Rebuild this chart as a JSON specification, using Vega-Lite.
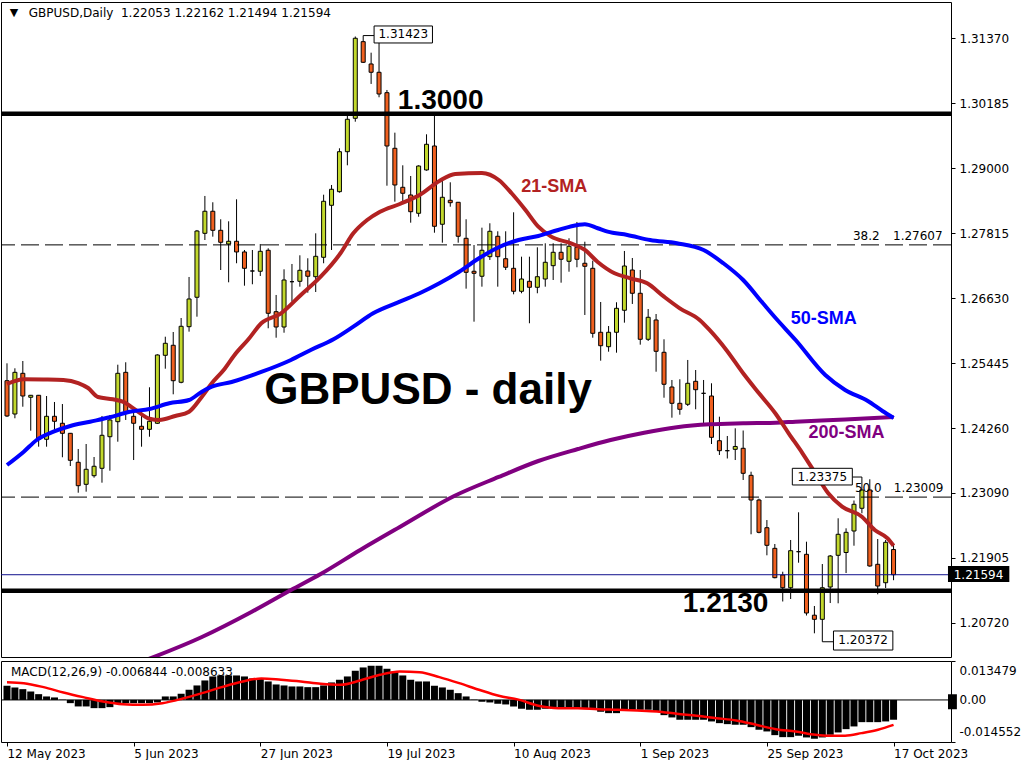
{
"$schema": "https://vega.github.io/schema/vega-lite/v6.json",
"background": "white",
"padding": {"left": 0, "top": 1, "right": 0, "bottom": 0},
"spacing": 2,
"config": {
  "view": {"stroke": "black", "strokeWidth": 1},
  "font": "DejaVu Sans",
  "axis": {"labelFont": "DejaVu Sans", "labelFontSize": 12, "labelColor": "black", "tickColor": "black", "grid": false, "domain": false}
},
"datasets": {
"ohlc": [
{"i":0,"o":1.25131,"h":1.25448,"l":1.24469,"c":1.24488},
{"i":1,"o":1.24524,"h":1.25357,"l":1.24446,"c":1.25284},
{"i":2,"o":1.25266,"h":1.25490,"l":1.24657,"c":1.24852},
{"i":3,"o":1.24829,"h":1.24871,"l":1.24220,"c":1.24865},
{"i":4,"o":1.24865,"h":1.24871,"l":1.23928,"c":1.24063},
{"i":5,"o":1.24063,"h":1.24852,"l":1.23928,"c":1.24482},
{"i":6,"o":1.24482,"h":1.24743,"l":1.24232,"c":1.24391},
{"i":7,"o":1.24355,"h":1.24706,"l":1.23735,"c":1.24172},
{"i":8,"o":1.24172,"h":1.24178,"l":1.23576,"c":1.23680},
{"i":9,"o":1.23644,"h":1.23886,"l":1.23089,"c":1.23217},
{"i":10,"o":1.23242,"h":1.23977,"l":1.23108,"c":1.23516},
{"i":11,"o":1.23399,"h":1.23740,"l":1.23363,"c":1.23571},
{"i":12,"o":1.23534,"h":1.24488,"l":1.23272,"c":1.24136},
{"i":13,"o":1.24110,"h":1.24506,"l":1.23490,"c":1.24415},
{"i":14,"o":1.24384,"h":1.25423,"l":1.24019,"c":1.25266},
{"i":15,"o":1.25284,"h":1.25467,"l":1.24415,"c":1.24566},
{"i":16,"o":1.24482,"h":1.24597,"l":1.23685,"c":1.24355},
{"i":17,"o":1.24300,"h":1.24566,"l":1.23928,"c":1.24245},
{"i":18,"o":1.24245,"h":1.25011,"l":1.24110,"c":1.24391},
{"i":19,"o":1.24355,"h":1.25612,"l":1.24342,"c":1.25600},
{"i":20,"o":1.25594,"h":1.25933,"l":1.25350,"c":1.25813},
{"i":21,"o":1.25777,"h":1.26019,"l":1.24883,"c":1.25131},
{"i":22,"o":1.25102,"h":1.26274,"l":1.25084,"c":1.26123},
{"i":23,"o":1.26116,"h":1.27022,"l":1.26025,"c":1.26621},
{"i":24,"o":1.26652,"h":1.27879,"l":1.26298,"c":1.27860},
{"i":25,"o":1.27818,"h":1.28499,"l":1.27696,"c":1.28220},
{"i":26,"o":1.28220,"h":1.28384,"l":1.27757,"c":1.27873},
{"i":27,"o":1.27873,"h":1.28074,"l":1.27149,"c":1.27654},
{"i":28,"o":1.27623,"h":1.28037,"l":1.26925,"c":1.27673},
{"i":29,"o":1.27673,"h":1.28438,"l":1.27272,"c":1.27478},
{"i":30,"o":1.27478,"h":1.27514,"l":1.26863,"c":1.27180},
{"i":31,"o":1.27131,"h":1.27514,"l":1.26889,"c":1.27131},
{"i":32,"o":1.27126,"h":1.27623,"l":1.27040,"c":1.27490},
{"i":33,"o":1.27509,"h":1.27545,"l":1.26087,"c":1.26360},
{"i":34,"o":1.26389,"h":1.26694,"l":1.25915,"c":1.26110},
{"i":35,"o":1.26110,"h":1.27162,"l":1.26006,"c":1.26967},
{"i":36,"o":1.26936,"h":1.27259,"l":1.26572,"c":1.26936},
{"i":37,"o":1.26943,"h":1.27417,"l":1.26845,"c":1.27144},
{"i":38,"o":1.27131,"h":1.27363,"l":1.26736,"c":1.27035},
{"i":39,"o":1.27027,"h":1.27818,"l":1.26748,"c":1.27399},
{"i":40,"o":1.27381,"h":1.28522,"l":1.27272,"c":1.28402},
{"i":41,"o":1.28329,"h":1.28699,"l":1.27514,"c":1.28621},
{"i":42,"o":1.28577,"h":1.29368,"l":1.28559,"c":1.29306},
{"i":43,"o":1.29306,"h":1.29975,"l":1.29058,"c":1.29897},
{"i":44,"o":1.29915,"h":1.31406,"l":1.29853,"c":1.31374},
{"i":45,"o":1.31312,"h":1.31423,"l":1.30923,"c":1.30936},
{"i":46,"o":1.30905,"h":1.31111,"l":1.30541,"c":1.30754},
{"i":47,"o":1.30754,"h":1.31306,"l":1.30298,"c":1.30358},
{"i":48,"o":1.30382,"h":1.30431,"l":1.28686,"c":1.29410},
{"i":49,"o":1.29368,"h":1.29653,"l":1.28395,"c":1.28699},
{"i":50,"o":1.28657,"h":1.29058,"l":1.28376,"c":1.28548},
{"i":51,"o":1.28517,"h":1.28863,"l":1.28012,"c":1.28212},
{"i":52,"o":1.28183,"h":1.29058,"l":1.28121,"c":1.29045},
{"i":53,"o":1.28973,"h":1.29623,"l":1.28960,"c":1.29441},
{"i":54,"o":1.29410,"h":1.29975,"l":1.27829,"c":1.27946},
{"i":55,"o":1.27983,"h":1.28827,"l":1.27647,"c":1.28475},
{"i":56,"o":1.28420,"h":1.28748,"l":1.28303,"c":1.28376},
{"i":57,"o":1.28384,"h":1.28389,"l":1.27647,"c":1.27764},
{"i":58,"o":1.27727,"h":1.28074,"l":1.26809,"c":1.27107},
{"i":59,"o":1.27126,"h":1.27605,"l":1.26207,"c":1.27089},
{"i":60,"o":1.27035,"h":1.27921,"l":1.26845,"c":1.27509},
{"i":61,"o":1.27392,"h":1.28001,"l":1.27332,"c":1.27855},
{"i":62,"o":1.27764,"h":1.27855,"l":1.26845,"c":1.27392},
{"i":63,"o":1.27355,"h":1.27855,"l":1.27149,"c":1.27199},
{"i":64,"o":1.27180,"h":1.28201,"l":1.26706,"c":1.26761},
{"i":65,"o":1.26761,"h":1.27392,"l":1.26725,"c":1.26985},
{"i":66,"o":1.26943,"h":1.27392,"l":1.26178,"c":1.26834},
{"i":67,"o":1.26834,"h":1.27563,"l":1.26725,"c":1.27027},
{"i":68,"o":1.26985,"h":1.27636,"l":1.26845,"c":1.27290},
{"i":69,"o":1.27228,"h":1.27636,"l":1.26967,"c":1.27472},
{"i":70,"o":1.27472,"h":1.27636,"l":1.26918,"c":1.27345},
{"i":71,"o":1.27308,"h":1.27727,"l":1.27118,"c":1.27582},
{"i":72,"o":1.27563,"h":1.28025,"l":1.27199,"c":1.27345},
{"i":73,"o":1.27272,"h":1.27665,"l":1.26329,"c":1.27217},
{"i":74,"o":1.27180,"h":1.27319,"l":1.25915,"c":1.25995},
{"i":75,"o":1.26014,"h":1.26566,"l":1.25496,"c":1.25769},
{"i":76,"o":1.25751,"h":1.26128,"l":1.25660,"c":1.26014},
{"i":77,"o":1.26014,"h":1.26561,"l":1.25642,"c":1.26451},
{"i":78,"o":1.26415,"h":1.27496,"l":1.26189,"c":1.27222},
{"i":79,"o":1.27149,"h":1.27368,"l":1.26530,"c":1.26725},
{"i":80,"o":1.26725,"h":1.27149,"l":1.25788,"c":1.25886},
{"i":81,"o":1.25886,"h":1.26438,"l":1.25855,"c":1.26287},
{"i":82,"o":1.26238,"h":1.26347,"l":1.25295,"c":1.25667},
{"i":83,"o":1.25649,"h":1.25886,"l":1.24821,"c":1.25066},
{"i":84,"o":1.25016,"h":1.25144,"l":1.24457,"c":1.24719},
{"i":85,"o":1.24719,"h":1.25157,"l":1.24511,"c":1.24610},
{"i":86,"o":1.24701,"h":1.25509,"l":1.24670,"c":1.25084},
{"i":87,"o":1.25120,"h":1.25326,"l":1.24610,"c":1.24967},
{"i":88,"o":1.24901,"h":1.25144,"l":1.24355,"c":1.24901},
{"i":89,"o":1.24852,"h":1.25084,"l":1.23977,"c":1.24099},
{"i":90,"o":1.24037,"h":1.24475,"l":1.23777,"c":1.23855},
{"i":91,"o":1.23855,"h":1.24123,"l":1.23713,"c":1.23855},
{"i":92,"o":1.23880,"h":1.24263,"l":1.23685,"c":1.23932},
{"i":93,"o":1.23899,"h":1.24223,"l":1.23321,"c":1.23443},
{"i":94,"o":1.23406,"h":1.23472,"l":1.22331,"c":1.22956},
{"i":95,"o":1.22956,"h":1.22980,"l":1.22349,"c":1.22367},
{"i":96,"o":1.22451,"h":1.22591,"l":1.21948,"c":1.22130},
{"i":97,"o":1.22075,"h":1.22154,"l":1.21529,"c":1.21540},
{"i":98,"o":1.21589,"h":1.21649,"l":1.21106,"c":1.21357},
{"i":99,"o":1.21357,"h":1.22227,"l":1.21151,"c":1.22032},
{"i":100,"o":1.22014,"h":1.22732,"l":1.21813,"c":1.22014},
{"i":101,"o":1.21966,"h":1.22196,"l":1.20850,"c":1.20896},
{"i":102,"o":1.20856,"h":1.21024,"l":1.20526,"c":1.20781},
{"i":103,"o":1.20781,"h":1.21789,"l":1.20372,"c":1.21357},
{"i":104,"o":1.21370,"h":1.21953,"l":1.21078,"c":1.21935},
{"i":105,"o":1.21948,"h":1.22623,"l":1.21073,"c":1.22331},
{"i":106,"o":1.21999,"h":1.22440,"l":1.21625,"c":1.22367},
{"i":107,"o":1.22391,"h":1.22947,"l":1.22123,"c":1.22878},
{"i":108,"o":1.22805,"h":1.23375,"l":1.22714,"c":1.23139},
{"i":109,"o":1.23139,"h":1.23334,"l":1.21740,"c":1.21753},
{"i":110,"o":1.21784,"h":1.22245,"l":1.21237,"c":1.21388},
{"i":111,"o":1.21448,"h":1.22227,"l":1.21352,"c":1.22185},
{"i":112,"o":1.22053,"h":1.22162,"l":1.21494,"c":1.21594}
],
"sma": [
{"s":"21","i":0,"v":1.25071},{"s":"21","i":2.125,"v":1.25157},{"s":"21","i":4.625,"v":1.25153},{"s":"21","i":7.125,"v":1.25144},{"s":"21","i":9,"v":1.25089},{"s":"21","i":10.25,"v":1.24998},{"s":"21","i":11.5,"v":1.24834},{"s":"21","i":13.375,"v":1.24792},{"s":"21","i":14.625,"v":1.24748},{"s":"21","i":16.25,"v":1.24597},{"s":"21","i":18,"v":1.24438},{"s":"21","i":19.25,"v":1.24415},{"s":"21","i":21.25,"v":1.24488},{"s":"21","i":23,"v":1.24566},{"s":"21","i":24.625,"v":1.24840},{"s":"21","i":25.875,"v":1.25084},{"s":"21","i":27.375,"v":1.25326},{"s":"21","i":28.75,"v":1.25600},{"s":"21","i":30.5,"v":1.25886},{"s":"21","i":32.125,"v":1.26178},{"s":"21","i":34.625,"v":1.26360},{"s":"21","i":37.125,"v":1.26694},{"s":"21","i":39.625,"v":1.27027},{"s":"21","i":42.125,"v":1.27454},{"s":"21","i":43.75,"v":1.27818},{"s":"21","i":45.5,"v":1.28061},{"s":"21","i":47.125,"v":1.28212},{"s":"21","i":49.625,"v":1.28353},{"s":"21","i":52.125,"v":1.28517},{"s":"21","i":54.625,"v":1.28772},{"s":"21","i":56.625,"v":1.28900},{"s":"21","i":60,"v":1.28918},{"s":"21","i":62.125,"v":1.28790},{"s":"21","i":63.75,"v":1.28548},{"s":"21","i":65.5,"v":1.28243},{"s":"21","i":67.125,"v":1.27939},{"s":"21","i":68.75,"v":1.27757},{"s":"21","i":71.25,"v":1.27636},{"s":"21","i":73,"v":1.27514},{"s":"21","i":74.625,"v":1.27295},{"s":"21","i":76.75,"v":1.27089},{"s":"21","i":78.75,"v":1.26998},{"s":"21","i":80.875,"v":1.26907},{"s":"21","i":83,"v":1.26663},{"s":"21","i":85,"v":1.26451},{"s":"21","i":87.5,"v":1.26238},{"s":"21","i":88.75,"v":1.26056},{"s":"21","i":90.875,"v":1.25691},{"s":"21","i":93,"v":1.25266},{"s":"21","i":95,"v":1.24901},{"s":"21","i":97.125,"v":1.24524},{"s":"21","i":98.75,"v":1.24172},{"s":"21","i":100.5,"v":1.23808},{"s":"21","i":102.125,"v":1.23443},{"s":"21","i":103.75,"v":1.23078},{"s":"21","i":105.5,"v":1.22834},{"s":"21","i":108,"v":1.22652},{"s":"21","i":109.625,"v":1.22409},{"s":"21","i":111.25,"v":1.22258},{"s":"21","i":112,"v":1.22123},
{"s":"50","i":0,"v":1.23594},{"s":"50","i":2.125,"v":1.23837},{"s":"50","i":3.75,"v":1.24050},{"s":"50","i":5.875,"v":1.24201},{"s":"50","i":8,"v":1.24305},{"s":"50","i":10.5,"v":1.24384},{"s":"50","i":13,"v":1.24464},{"s":"50","i":15.5,"v":1.24566},{"s":"50","i":18,"v":1.24615},{"s":"50","i":20.5,"v":1.24719},{"s":"50","i":23,"v":1.24779},{"s":"50","i":24.625,"v":1.24931},{"s":"50","i":25.875,"v":1.25022},{"s":"50","i":28.375,"v":1.25108},{"s":"50","i":32.125,"v":1.25290},{"s":"50","i":35.875,"v":1.25509},{"s":"50","i":38.375,"v":1.25691},{"s":"50","i":41.25,"v":1.25886},{"s":"50","i":43.75,"v":1.26116},{"s":"50","i":46.25,"v":1.26360},{"s":"50","i":49.625,"v":1.26572},{"s":"50","i":52.125,"v":1.26725},{"s":"50","i":54.625,"v":1.26907},{"s":"50","i":57.125,"v":1.27118},{"s":"50","i":59.625,"v":1.27363},{"s":"50","i":62.125,"v":1.27563},{"s":"50","i":64.625,"v":1.27696},{"s":"50","i":67.125,"v":1.27769},{"s":"50","i":69.625,"v":1.27879},{"s":"50","i":72.125,"v":1.27970},{"s":"50","i":73,"v":1.27983},{"s":"50","i":74.625,"v":1.27910},{"s":"50","i":75.875,"v":1.27848},{"s":"50","i":78.375,"v":1.27788},{"s":"50","i":81.25,"v":1.27696},{"s":"50","i":84.625,"v":1.27636},{"s":"50","i":88,"v":1.27514},{"s":"50","i":90.5,"v":1.27272},{"s":"50","i":93,"v":1.26967},{"s":"50","i":95.5,"v":1.26542},{"s":"50","i":97.125,"v":1.26269},{"s":"50","i":99.625,"v":1.25873},{"s":"50","i":103.375,"v":1.25235},{"s":"50","i":105.875,"v":1.24962},{"s":"50","i":108.75,"v":1.24761},{"s":"50","i":110.6,"v":1.24579},{"s":"50","i":112,"v":1.24451},
{"s":"200","i":15.875,"v":1.19948},{"s":"200","i":24.625,"v":1.20458},{"s":"200","i":30.875,"v":1.20914},{"s":"200","i":35.875,"v":1.21315},{"s":"200","i":39.625,"v":1.21607},{"s":"200","i":44.625,"v":1.22045},{"s":"200","i":49.625,"v":1.22464},{"s":"200","i":56.5,"v":1.23029},{"s":"200","i":62.125,"v":1.23376},{"s":"200","i":67.125,"v":1.23667},{"s":"200","i":72.125,"v":1.23886},{"s":"200","i":76.25,"v":1.24050},{"s":"200","i":80.5,"v":1.24183},{"s":"200","i":84.625,"v":1.24282},{"s":"200","i":88.75,"v":1.24336},{"s":"200","i":93,"v":1.24355},{"s":"200","i":97.125,"v":1.24365},{"s":"200","i":99.625,"v":1.24384},{"s":"200","i":105.875,"v":1.24424},{"s":"200","i":112,"v":1.24469}
],
"macd": [
{"i":0,"m":0.004913},{"i":1,"m":0.004325},{"i":2,"m":0.003737},{"i":3,"m":0.002941},{"i":4,"m":0.002007},{"i":5,"m":0.001211},{"i":6,"m":0.000865},{"i":7,"m":0.0001},{"i":8,"m":-0.001107},{"i":9,"m":-0.002249},{"i":10,"m":-0.002249},{"i":11,"m":-0.002837},{"i":12,"m":-0.002837},{"i":13,"m":-0.002491},{"i":14,"m":-0.001315},{"i":15,"m":-0.001107},{"i":16,"m":-0.001107},{"i":17,"m":-0.001107},{"i":18,"m":-0.001107},{"i":19,"m":-0.000865},{"i":20,"m":0.001211},{"i":21,"m":0.001211},{"i":22,"m":0.002145},{"i":23,"m":0.003529},{"i":24,"m":0.005017},{"i":25,"m":0.006747},{"i":26,"m":0.008131},{"i":27,"m":0.008477},{"i":28,"m":0.008477},{"i":29,"m":0.008477},{"i":30,"m":0.008131},{"i":31,"m":0.007439},{"i":32,"m":0.007439},{"i":33,"m":0.006401},{"i":34,"m":0.005363},{"i":35,"m":0.005017},{"i":36,"m":0.004671},{"i":37,"m":0.004671},{"i":38,"m":0.004429},{"i":39,"m":0.004429},{"i":40,"m":0.005017},{"i":41,"m":0.006055},{"i":42,"m":0.006989},{"i":43,"m":0.008131},{"i":44,"m":0.010103},{"i":45,"m":0.011245},{"i":46,"m":0.011833},{"i":47,"m":0.011833},{"i":48,"m":0.010795},{"i":49,"m":0.009861},{"i":50,"m":0.008477},{"i":51,"m":0.006989},{"i":52,"m":0.006401},{"i":53,"m":0.006401},{"i":54,"m":0.004913},{"i":55,"m":0.004325},{"i":56,"m":0.003529},{"i":57,"m":0.002353},{"i":58,"m":0.001211},{"i":59,"m":0.0001},{"i":60,"m":-0.000623},{"i":61,"m":-0.000865},{"i":62,"m":-0.001315},{"i":63,"m":-0.001557},{"i":64,"m":-0.002249},{"i":65,"m":-0.003045},{"i":66,"m":-0.003391},{"i":67,"m":-0.003391},{"i":68,"m":-0.003045},{"i":69,"m":-0.003045},{"i":70,"m":-0.002837},{"i":71,"m":-0.002837},{"i":72,"m":-0.002837},{"i":73,"m":-0.002837},{"i":74,"m":-0.003391},{"i":75,"m":-0.004083},{"i":76,"m":-0.004567},{"i":77,"m":-0.004567},{"i":78,"m":-0.003391},{"i":79,"m":-0.003391},{"i":80,"m":-0.003391},{"i":81,"m":-0.003391},{"i":82,"m":-0.004083},{"i":83,"m":-0.005259},{"i":84,"m":-0.006055},{"i":85,"m":-0.006851},{"i":86,"m":-0.006851},{"i":87,"m":-0.006851},{"i":88,"m":-0.006851},{"i":89,"m":-0.007439},{"i":90,"m":-0.008027},{"i":91,"m":-0.008373},{"i":92,"m":-0.008581},{"i":93,"m":-0.008581},{"i":94,"m":-0.009411},{"i":95,"m":-0.010311},{"i":96,"m":-0.010899},{"i":97,"m":-0.012179},{"i":98,"m":-0.012871},{"i":99,"m":-0.012871},{"i":100,"m":-0.012387},{"i":101,"m":-0.012975},{"i":102,"m":-0.013425},{"i":103,"m":-0.012975},{"i":104,"m":-0.012041},{"i":105,"m":-0.011245},{"i":106,"m":-0.010103},{"i":107,"m":-0.009169},{"i":108,"m":-0.007681},{"i":109,"m":-0.007681},{"i":110,"m":-0.007681},{"i":111,"m":-0.007439},{"i":112,"m":-0.006844}
],
"signal": [
{"i":0,"s":0.006159},{"i":2.125,"s":0.005813},{"i":4.625,"s":0.004429},{"i":7.125,"s":0.002595},{"i":9.625,"s":0.000969},{"i":12.125,"s":-0.000519},{"i":14.625,"s":-0.001453},{"i":17.125,"s":-0.001661},{"i":19.625,"s":-0.001107},{"i":22.125,"s":0.000415},{"i":24.625,"s":0.002353},{"i":27.125,"s":0.004429},{"i":29.625,"s":0.006297},{"i":32.125,"s":0.007439},{"i":34.625,"s":0.006989},{"i":37.125,"s":0.006401},{"i":39.625,"s":0.005605},{"i":42.125,"s":0.005259},{"i":44.625,"s":0.006747},{"i":47.125,"s":0.008719},{"i":49.625,"s":0.009861},{"i":52.125,"s":0.009619},{"i":54.625,"s":0.007889},{"i":57.125,"s":0.005813},{"i":59.625,"s":0.003529},{"i":62.125,"s":0.001453},{"i":64.625,"s":0.0001},{"i":67.125,"s":-0.002007},{"i":69.625,"s":-0.002837},{"i":72.125,"s":-0.002837},{"i":74.625,"s":-0.003183},{"i":77.125,"s":-0.003391},{"i":79.625,"s":-0.003633},{"i":82.125,"s":-0.003979},{"i":84.625,"s":-0.004775},{"i":87.125,"s":-0.005467},{"i":89.625,"s":-0.006297},{"i":92.125,"s":-0.007093},{"i":94.625,"s":-0.008581},{"i":97.125,"s":-0.010103},{"i":99.625,"s":-0.010899},{"i":102.125,"s":-0.012041},{"i":103.8,"s":-0.012387},{"i":105.875,"s":-0.012387},{"i":107.96,"s":-0.011487},{"i":110.04,"s":-0.010311},{"i":112,"s":-0.008633}
]
},
"vconcat": [
{
"width": 950,
"height": 655,
"resolve": {"axis": {"x": "independent", "y": "independent"}},
"layer": [
{"data": {"name": "ohlc"},
 "mark": {"type": "rule", "color": "black", "strokeWidth": 1, "clip": true},
 "encoding": {
  "x": {"field": "i", "type": "quantitative", "scale": {"domain": [-0.125, 118.625], "nice": false, "zero": false}, "axis": null},
  "y": {"field": "l", "type": "quantitative", "scale": {"domain": [1.20094, 1.32035], "nice": false, "zero": false},
        "axis": {"orient": "right", "title": null, "values": [1.2072, 1.21905, 1.2309, 1.2426, 1.25445, 1.2663, 1.27815, 1.29, 1.30185, 1.3137], "format": ".5f", "tickSize": 4, "labelPadding": 4, "labelFlush": false}},
  "y2": {"field": "h"}
 }},
{"data": {"name": "ohlc"},
 "mark": {"type": "bar", "width": 4, "stroke": "black", "strokeWidth": 1, "clip": true},
 "encoding": {
  "x": {"field": "i", "type": "quantitative", "axis": null},
  "y": {"field": "o", "type": "quantitative", "axis": null},
  "y2": {"field": "c"},
  "fill": {"condition": {"test": "datum.c > datum.o", "value": "#C2D82C"}, "value": "#F0601F"}
 }},
{"data": {"values": [{"p": 1.27607}, {"p": 1.23009}]},
 "mark": {"type": "rule", "color": "black", "strokeWidth": 1, "strokeDash": [18, 6], "clip": true},
 "encoding": {"y": {"field": "p", "type": "quantitative", "axis": null}}},
{"data": {"values": [{"p": 1.21594}]},
 "mark": {"type": "rule", "color": "#10108C", "strokeWidth": 1, "clip": true},
 "encoding": {"y": {"field": "p", "type": "quantitative", "axis": null}}},
{"data": {"values": [{"p": 1.3}, {"p": 1.213}]},
 "mark": {"type": "rule", "color": "black", "strokeWidth": 4.5, "clip": true},
 "encoding": {"y": {"field": "p", "type": "quantitative", "axis": null}}},
{"data": {"name": "sma"},
 "transform": [{"filter": "datum.s == '200'"}],
 "mark": {"type": "line", "color": "#800080", "strokeWidth": 4, "interpolate": "monotone", "clip": true},
 "encoding": {"x": {"field": "i", "type": "quantitative", "axis": null}, "y": {"field": "v", "type": "quantitative", "axis": null}}},
{"data": {"name": "sma"},
 "transform": [{"filter": "datum.s == '21'"}],
 "mark": {"type": "line", "color": "#B22222", "strokeWidth": 4, "interpolate": "monotone", "clip": true},
 "encoding": {"x": {"field": "i", "type": "quantitative", "axis": null}, "y": {"field": "v", "type": "quantitative", "axis": null}}},
{"data": {"name": "sma"},
 "transform": [{"filter": "datum.s == '50'"}],
 "mark": {"type": "line", "color": "#0000FF", "strokeWidth": 4, "interpolate": "monotone", "clip": true},
 "encoding": {"x": {"field": "i", "type": "quantitative", "axis": null}, "y": {"field": "v", "type": "quantitative", "axis": null}}},
{"data": {"values": [{"a": 45, "b": 46.375, "p": 1.31423}, {"a": 106.79, "b": 108, "p": 1.23375}, {"a": 103, "b": 104.41, "p": 1.20372}]},
 "mark": {"type": "rule", "color": "black", "strokeWidth": 1, "clip": true},
 "encoding": {"x": {"field": "a", "type": "quantitative", "axis": null}, "x2": {"field": "b"}, "y": {"field": "p", "type": "quantitative", "axis": null}}},
{"data": {"values": [{"a": 46.375, "b": 53.75, "p": 1.31598, "q": 1.31288}, {"a": 99.21, "b": 106.79, "p": 1.23534, "q": 1.2323}, {"a": 104.41, "b": 111.91, "p": 1.20568, "q": 1.20221}]},
 "mark": {"type": "rect", "fill": "white", "stroke": "black", "strokeWidth": 1},
 "encoding": {"x": {"field": "a", "type": "quantitative", "axis": null}, "x2": {"field": "b"}, "y": {"field": "p", "type": "quantitative", "axis": null}, "y2": {"field": "q"}}},
{"data": {"values": [{"i": 50.06, "p": 1.31443, "t": "1.31423"}, {"i": 103, "p": 1.23381, "t": "1.23375"}, {"i": 108.16, "p": 1.20395, "t": "1.20372"}]},
 "mark": {"type": "text", "font": "DejaVu Sans", "fontSize": 12, "color": "black", "align": "center", "baseline": "middle"},
 "encoding": {"x": {"field": "i", "type": "quantitative", "axis": null}, "y": {"field": "p", "type": "quantitative", "axis": null}, "text": {"field": "t"}}},
{"data": {"values": [{"i": 106.875, "p": 1.27769, "t": "38.2"}, {"i": 107.125, "p": 1.23175, "t": "50.0"}]},
 "mark": {"type": "text", "font": "DejaVu Sans", "fontSize": 12, "color": "black", "align": "left", "baseline": "middle"},
 "encoding": {"x": {"field": "i", "type": "quantitative", "axis": null}, "y": {"field": "p", "type": "quantitative", "axis": null}, "text": {"field": "t"}}},
{"data": {"values": [{"i": 118.2, "p": 1.27769, "t": "1.27607"}, {"i": 118.3, "p": 1.23175, "t": "1.23009"}]},
 "mark": {"type": "text", "font": "DejaVu Sans", "fontSize": 12, "color": "black", "align": "right", "baseline": "middle"},
 "encoding": {"x": {"field": "i", "type": "quantitative", "axis": null}, "y": {"field": "p", "type": "quantitative", "axis": null}, "text": {"field": "t"}}},
{"data": {"values": [{"i": 49.375, "p": 1.30231, "t": "1.3000"}, {"i": 85.375, "p": 1.2106, "t": "1.2130"}]},
 "mark": {"type": "text", "font": "Liberation Sans", "fontWeight": "bold", "fontSize": 28, "color": "black", "align": "left", "baseline": "middle"},
 "encoding": {"x": {"field": "i", "type": "quantitative", "axis": null}, "y": {"field": "p", "type": "quantitative", "axis": null}, "text": {"field": "t"}}},
{"data": {"values": [{"i": 32.5, "p": 1.24943, "t": "GBPUSD - daily"}]},
 "mark": {"type": "text", "font": "Liberation Sans", "fontWeight": "bold", "fontSize": 44, "color": "black", "align": "left", "baseline": "middle"},
 "encoding": {"x": {"field": "i", "type": "quantitative", "axis": null}, "y": {"field": "p", "type": "quantitative", "axis": null}, "text": {"field": "t"}}},
{"data": {"values": [{"i": 64.96, "p": 1.28663, "t": "21-SMA"}]},
 "mark": {"type": "text", "font": "Liberation Sans", "fontWeight": "bold", "fontSize": 18, "color": "#B22222", "align": "left", "baseline": "middle"},
 "encoding": {"x": {"field": "i", "type": "quantitative", "axis": null}, "y": {"field": "p", "type": "quantitative", "axis": null}, "text": {"field": "t"}}},
{"data": {"values": [{"i": 99, "p": 1.26256, "t": "50-SMA"}]},
 "mark": {"type": "text", "font": "Liberation Sans", "fontWeight": "bold", "fontSize": 18, "color": "#0000FF", "align": "left", "baseline": "middle"},
 "encoding": {"x": {"field": "i", "type": "quantitative", "axis": null}, "y": {"field": "p", "type": "quantitative", "axis": null}, "text": {"field": "t"}}},
{"data": {"values": [{"i": 101.25, "p": 1.24178, "t": "200-SMA"}]},
 "mark": {"type": "text", "font": "Liberation Sans", "fontWeight": "bold", "fontSize": 18, "color": "#800080", "align": "left", "baseline": "middle"},
 "encoding": {"x": {"field": "i", "type": "quantitative", "axis": null}, "y": {"field": "p", "type": "quantitative", "axis": null}, "text": {"field": "t"}}},
{"data": {"values": [{"i": 0.875, "p": 1.31826, "t": "▼"}]},
 "mark": {"type": "text", "font": "DejaVu Sans", "fontSize": 11, "color": "black", "align": "center", "baseline": "middle"},
 "encoding": {"x": {"field": "i", "type": "quantitative", "axis": null}, "y": {"field": "p", "type": "quantitative", "axis": null}, "text": {"field": "t"}}},
{"data": {"values": [{"i": 2.75, "p": 1.31835, "t": "GBPUSD,Daily\u00a0 1.22053 1.22162 1.21494 1.21594"}]},
 "mark": {"type": "text", "font": "DejaVu Sans", "fontSize": 12, "color": "black", "align": "left", "baseline": "middle"},
 "encoding": {"x": {"field": "i", "type": "quantitative", "axis": null}, "y": {"field": "p", "type": "quantitative", "axis": null}, "text": {"field": "t"}}},
{"data": {"values": [{"a": 118.875, "b": 126.625, "p": 1.21753, "q": 1.21461}]},
 "mark": {"type": "rect", "fill": "black"},
 "encoding": {"x": {"field": "a", "type": "quantitative", "axis": null}, "x2": {"field": "b"}, "y": {"field": "p", "type": "quantitative", "axis": null}, "y2": {"field": "q"}}},
{"data": {"values": [{"i": 119.6, "p": 1.21594, "t": "1.21594"}]},
 "mark": {"type": "text", "font": "DejaVu Sans", "fontSize": 12, "color": "white", "align": "left", "baseline": "middle"},
 "encoding": {"x": {"field": "i", "type": "quantitative", "axis": null}, "y": {"field": "p", "type": "quantitative", "axis": null}, "text": {"field": "t"}}}
]
},
{
"width": 950,
"height": 81,
"resolve": {"axis": {"x": "independent", "y": "independent"}},
"layer": [
{"data": {"name": "macd"},
 "mark": {"type": "bar", "width": 7, "color": "black", "clip": true},
 "encoding": {
  "x": {"field": "i", "type": "quantitative", "scale": {"domain": [-0.125, 118.625], "nice": false, "zero": false},
        "axis": {"orient": "bottom", "title": null, "values": [0, 16, 32, 48, 64, 80, 96, 112], "labelExpr": "['12 May 2023','5 Jun 2023','27 Jun 2023','19 Jul 2023','10 Aug 2023','1 Sep 2023','25 Sep 2023','17 Oct 2023'][round(datum.value/16)]", "labelAlign": "left", "labelBaseline": "top", "tickSize": 4, "labelPadding": 2, "labelFlush": false, "labelOverlap": false, "labelBound": false}},
  "y": {"field": "m", "type": "quantitative", "scale": {"domain": [-0.014552, 0.013479], "nice": false, "zero": false},
        "axis": {"orient": "right", "title": null, "values": [0.013479, 0, -0.014552], "labelExpr": "datum.value > 0.01 ? '0.013479' : (datum.value < -0.01 ? '-0.014552' : '0.00')", "tickSize": 4, "labelPadding": 4, "labelFlush": true, "labelFlushOffset": -4}},
  "y2": {"datum": 0}
 }},
{"data": {"values": [{"z": 0}]},
 "mark": {"type": "rule", "color": "black", "strokeWidth": 1, "clip": true},
 "encoding": {"y": {"field": "z", "type": "quantitative", "axis": null}}},
{"data": {"name": "signal"},
 "mark": {"type": "line", "color": "#FF0000", "strokeWidth": 2.5, "interpolate": "monotone", "clip": true},
 "encoding": {"x": {"field": "i", "type": "quantitative", "axis": null}, "y": {"field": "s", "type": "quantitative", "axis": null}}},
{"data": {"values": [{"i": 0.5, "p": 0.0095, "t": "MACD(12,26,9) -0.006844 -0.008633"}]},
 "mark": {"type": "text", "font": "DejaVu Sans", "fontSize": 12, "color": "black", "align": "left", "baseline": "middle"},
 "encoding": {"x": {"field": "i", "type": "quantitative", "axis": null}, "y": {"field": "p", "type": "quantitative", "axis": null}, "text": {"field": "t"}}},
{"data": {"values": [{"a": 118.875, "b": 120, "p": 0.00197, "q": -0.00322}]},
 "mark": {"type": "rect", "fill": "black"},
 "encoding": {"x": {"field": "a", "type": "quantitative", "axis": null}, "x2": {"field": "b"}, "y": {"field": "p", "type": "quantitative", "axis": null}, "y2": {"field": "q"}}}
]
}
]
}
